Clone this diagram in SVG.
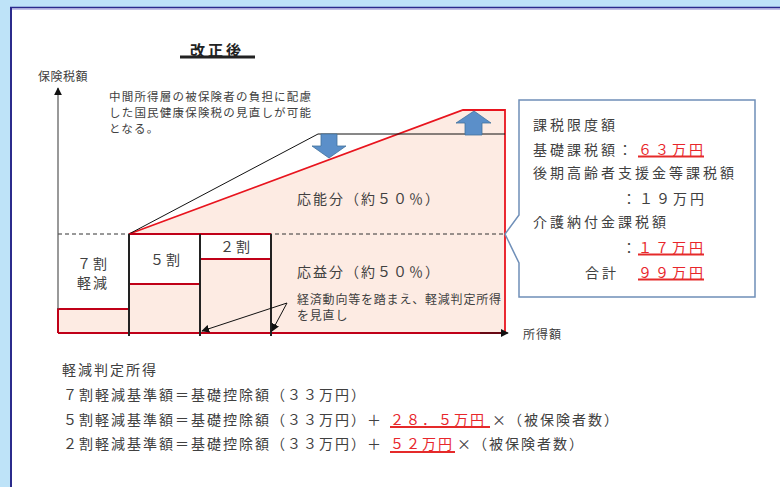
<svg xmlns="http://www.w3.org/2000/svg" width="780" height="487" viewBox="0 0 780 487">
<style>
text{font-family:"Noto Sans CJK JP","Noto Sans",sans-serif;fill:#404040}
.s12{font-size:12px;letter-spacing:0.75px}
.s14{font-size:14px;letter-spacing:2px}
.b14{font-size:14px;letter-spacing:3px}
.red{fill:#E8262B}
.ul{stroke:#E52A2A;stroke-width:2}
.dred{stroke:#C00018;stroke-width:2;fill:none}
.bred{stroke:#E8141E;stroke-width:1.8;fill:none}
.blk{stroke:#222;stroke-width:2}
.barrow{fill:#5B8FC9;stroke:#41719C;stroke-width:0.8}
</style>
<defs>
<marker id="ah" viewBox="0 0 10 10" refX="9" refY="5" markerWidth="8" markerHeight="8" orient="auto" markerUnits="userSpaceOnUse"><path d="M0,0 L10,5 L0,10 Z" fill="#111"/></marker>
</defs>
<rect x="0" y="0" width="780" height="487" fill="#BEE3F8"/>
<rect x="11" y="8" width="769" height="479" fill="#fff"/>
<line x1="10" y1="7.5" x2="780" y2="7.5" stroke="#2B2B8C" stroke-width="1.6"/>
<line x1="12" y1="9" x2="780" y2="9" stroke="#8A8AD0" stroke-width="1"/>
<line x1="11" y1="7" x2="11" y2="487" stroke="#2B2B8C" stroke-width="2"/>

<g id="title">
<rect x="180" y="55.5" width="75" height="3" fill="#222"/>
<text x="190" y="56" style="font-size:15px;font-weight:bold;letter-spacing:3px;fill:#222">改正後</text>
</g>

<g id="chart">
<polygon points="58,333 58,309 129,309 129,234 463,110 505,110 505,333" fill="#FDEBE3"/>
<rect x="129" y="234" width="71" height="50" fill="#fff"/>
<rect x="200" y="234" width="71" height="25" fill="#fff"/>
<line x1="58" y1="234" x2="505" y2="234" stroke="#333" stroke-width="1" stroke-dasharray="4,3"/>
<polyline class="bred" points="129,234 463,110 505,110 505,333"/>
<polyline points="129,234 318,134 505,134" fill="none" stroke="#111" stroke-width="1"/>
<polyline class="dred" points="58,333 58,309 129,309"/>
<line class="dred" x1="129" y1="234" x2="271" y2="234"/>
<line class="dred" x1="129" y1="284" x2="200" y2="284"/>
<line class="dred" x1="200" y1="259" x2="271" y2="259"/>
<line class="dred" x1="58" y1="333" x2="505" y2="333"/>
<line class="blk" x1="129" y1="234" x2="129" y2="336"/>
<line class="blk" x1="200" y1="234" x2="200" y2="336"/>
<line class="blk" x1="271" y1="234" x2="271" y2="336"/>
<polygon class="barrow" points="321,134 337,134 337,146 346,146 329,158 312,146 321,146"/>
<polygon class="barrow" points="465,135 482,135 482,123 491,123 474,111 456,123 465,123"/>
</g>

<g id="axes">
<line x1="58" y1="309" x2="58" y2="88" stroke="#555" stroke-width="1.2" marker-end="url(#ah)"/>
<line x1="480" y1="333" x2="508" y2="333" stroke="#111" stroke-width="1" marker-end="url(#ah)"/>
<text x="38" y="81" class="s12" style="letter-spacing:0.5px">保険税額</text>
<text x="523" y="339" class="s12" style="letter-spacing:1px">所得額</text>
</g>

<g id="note">
<text x="109" y="101" class="s12" style="font-size:11.5px;letter-spacing:1.2px">中間所得層の被保険者の負担に配慮</text>
<text x="109" y="117" class="s12" style="font-size:11.5px;letter-spacing:1.2px">した国民健康保険税の見直しが可能</text>
<text x="109" y="133" class="s12" style="font-size:11.5px;letter-spacing:1.2px">となる。</text>
</g>

<g id="labels">
<text x="93" y="269" class="s14" text-anchor="middle">７割</text>
<text x="93" y="288" class="s14" text-anchor="middle">軽減</text>
<text x="166" y="265" class="s14" text-anchor="middle">５割</text>
<text x="236" y="252" class="s14" text-anchor="middle">２割</text>
<text x="297" y="204" class="s14">応能分（約５０％）</text>
<text x="297" y="277" class="s14">応益分（約５０％）</text>
<text x="297" y="304" class="s12" style="letter-spacing:0.8px">経済動向等を踏まえ、軽減判定所得</text>
<text x="297" y="320" class="s12" style="letter-spacing:0.8px">を見直し</text>
</g>

<g id="connectors">
<line x1="287" y1="303" x2="202" y2="331" stroke="#111" stroke-width="1" marker-end="url(#ah)"/>
<line x1="287" y1="303" x2="272" y2="331" stroke="#111" stroke-width="1" marker-end="url(#ah)"/>
</g>

<g id="callout">
<path d="M519,215 L519,100 L755,100 L755,297 L519,297 L519,263 L505,234 Z" fill="#fff" stroke="#6F8FB8" stroke-width="1.5"/>
<text x="533" y="130" class="b14">課税限度額</text>
<text x="533" y="155" class="b14">基礎課税額：</text>
<text x="638" y="155" class="b14 red">６３万円</text>
<line class="ul" x1="638" y1="156.5" x2="704" y2="156.5"/>
<text x="533" y="178" class="b14">後期高齢者支援金等課税額</text>
<text x="622" y="204" class="b14">：１９万円</text>
<text x="533" y="227" class="b14">介護納付金課税額</text>
<text x="622" y="253" class="b14" style="letter-spacing:0">：</text>
<text x="638" y="253" class="b14 red">１７万円</text>
<line class="ul" x1="638" y1="254.5" x2="704" y2="254.5"/>
<text x="585" y="278" class="b14">合計</text>
<text x="638" y="278" class="b14 red">９９万円</text>
<line class="ul" x1="638" y1="279.5" x2="704" y2="279.5"/>
</g>

<g id="formulas">
<text x="62" y="375" class="s14">軽減判定所得</text>
<text x="63" y="400" class="s14">７割軽減基準額＝基礎控除額（３３万円）</text>
<text x="63" y="425" class="s14">５割軽減基準額＝基礎控除額（３３万円）＋</text>
<text x="390" y="425" class="s14 red">２８．５万円</text>
<line class="ul" x1="390" y1="427" x2="490" y2="427"/>
<text x="492" y="425" class="s14">×（被保険者数）</text>
<text x="63" y="449" class="s14">２割軽減基準額＝基礎控除額（３３万円）＋</text>
<text x="390" y="449" class="s14 red">５２万円</text>
<line class="ul" x1="390" y1="452" x2="455" y2="452"/>
<text x="457" y="449" class="s14">×（被保険者数）</text>
</g>
</svg>
